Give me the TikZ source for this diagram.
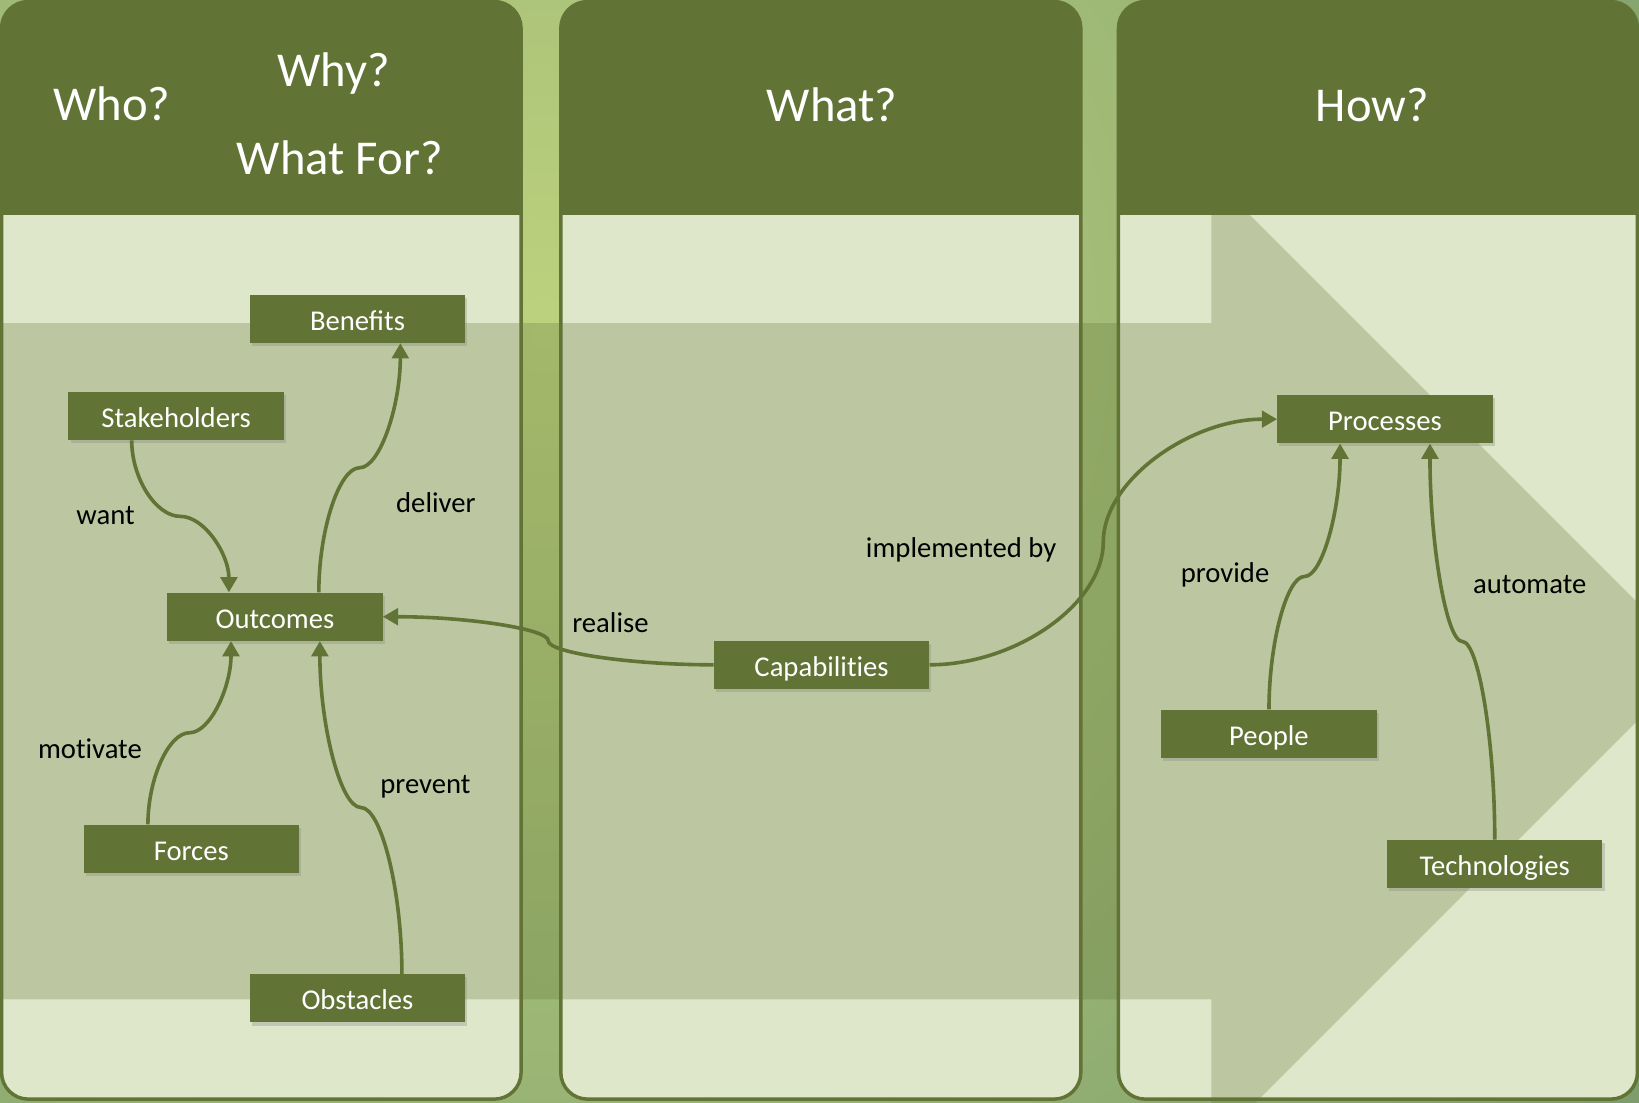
\documentclass[tikz,border=0pt]{standalone}
\usepackage{fontspec}
\setmainfont{Carlito}
\usetikzlibrary{arrows.meta,shadows,calc}
\definecolor{dkg}{HTML}{617335}
\definecolor{ltg}{HTML}{DFE7CA}
\definecolor{bgin}{HTML}{BDD27E}
\definecolor{bgout}{HTML}{7C9C6C}
\newcommand\upx{0.784pt}
\begin{document}
\begin{tikzpicture}[x=0.784pt,y=-0.784pt,
  box/.style={fill=dkg, text=white, font=\fontsize{21.5}{25}\selectfont,
    minimum width=161.5pt, minimum height=36.1pt, inner sep=0pt,
    text height=19pt, text depth=1.4pt,
    drop shadow={shadow xshift=1.6pt, shadow yshift=-2.4pt, opacity=0.3}},
  lbl/.style={font=\fontsize{21.5}{25}\selectfont, text=black, anchor=base, inner sep=0pt},
  hdr/.style={font=\fontsize{36.5}{43}\selectfont, text=white, anchor=base, inner sep=0pt},
  conn/.style={draw=dkg, line width=2.7pt, -{Triangle[length=11.5pt,width=12.5pt]}},
  vS/.style={to path={let \p1=(\tikztostart), \p2=(\tikztotarget) in
    .. controls (\x1,{\y1+(\y2-\y1)/4}) and ({\x1+(\x2-\x1)/4},{(\y1+\y2)/2}) .. ({(\x1+\x2)/2},{(\y1+\y2)/2})
    .. controls ({\x1+3*(\x2-\x1)/4},{(\y1+\y2)/2}) and (\x2,{\y2-(\y2-\y1)/4}) .. (\tikztotarget)}},
  hS/.style={to path={let \p1=(\tikztostart), \p2=(\tikztotarget) in
    .. controls ({\x1+(\x2-\x1)/4},\y1) and ({(\x1+\x2)/2},{\y1+(\y2-\y1)/4}) .. ({(\x1+\x2)/2},{(\y1+\y2)/2})
    .. controls ({(\x1+\x2)/2},{\y2-(\y2-\y1)/4}) and ({\x2-(\x2-\x1)/4},\y2) .. (\tikztotarget)}},
]
\useasboundingbox (0,0) rectangle (1568,1055);
% background
\begin{scope}
  \clip (0,0) rectangle (1568,1055);
  \shade[inner color=bgin, outer color=bgout] (520,320) circle (1300);
\end{scope}
% panels
\foreach \xa/\xb in {1.5/498.5, 536.5/1034, 1070/1566.5}{
  \begin{scope}
    \clip[rounded corners=20pt] (\xa,1.5) rectangle (\xb,1051.5);
    \fill[ltg] (\xa,0) rectangle (\xb,1055);
    \fill[dkg] (\xa,0) rectangle (\xb,206);
  \end{scope}
}
% big arrow overlay
\begin{scope}
  \clip (0,0) rectangle (1568,1055);
  \fill[dkg, opacity=0.27] (-5,309) -- (1159,309) -- (1159,169) -- (1623,633)
     -- (1159,1097) -- (1159,956) -- (-5,956) -- cycle;
\end{scope}
% panel borders
\foreach \xa/\xb in {1.5/498.5, 536.5/1034, 1070/1566.5}{
  \draw[dkg, line width=2.6pt, rounded corners=20pt] (\xa,1.5) rectangle (\xb,1051.5);
}
% headers
\node[hdr] (who) at (107,115) {Who?};
\node[hdr] (why) at (319,83) {Why?};
\node[hdr] (whatfor) at (325,167) {What For?};
\node[hdr] (what) at (796,116) {What?};
\node[hdr] (how) at (1313,116.5) {How?};
% boxes
\node[box] (benefits) at (342,305) {Benefits};
\node[box] (stake) at (168.5,398) {Stakeholders};
\node[box] (outcomes) at (263,590) {Outcomes};
\node[box] (forces) at (183,812) {Forces};
\node[box] (obstacles) at (342,955) {Obstacles};
\node[box] (capab) at (786,636) {Capabilit\kern0pt ies};
\node[box] (proc) at (1325,401) {Processes};
\node[box] (people) at (1214,702) {People};
\node[box] (tech) at (1430,826.5) {Technologies};
% labels
\node[lbl] (want) at (101,502) {want};
\node[lbl] (deliver) at (417,490) {deliver};
\node[lbl] (motivate) at (86,726) {mot\kern0pt ivate};
\node[lbl] (prevent) at (407,759) {prevent};
\node[lbl] (realise) at (584,605.5) {realise};
\node[lbl] (impl) at (919.5,533) {implemented by};
\node[lbl] (provide) at (1172,557.5) {provide};
\node[lbl] (automate) at (1463.5,567.5) {automate};
% connector end points
\coordinate (s1) at ([xshift=-42.5*\upx]stake.south);
\coordinate (e1) at ([xshift=-44*\upx]outcomes.north);
\coordinate (s2) at ([xshift=42*\upx]outcomes.north);
\coordinate (e2) at ([xshift=41*\upx]benefits.south);
\coordinate (s3) at ([xshift=-41.5*\upx]forces.north);
\coordinate (e3) at ([xshift=-42*\upx]outcomes.south);
\coordinate (s4) at ([xshift=42.5*\upx]obstacles.north);
\coordinate (e4) at ([xshift=43*\upx]outcomes.south);
\coordinate (s7) at (people.north);
\coordinate (e7) at ([xshift=-43*\upx]proc.south);
\coordinate (s8) at (tech.north);
\coordinate (e8) at ([xshift=43*\upx]proc.south);
\coordinate (s5) at (capab.west);
\coordinate (e5) at (outcomes.east);
\coordinate (s6) at (capab.east);
\coordinate (e6) at (proc.west);
% connectors
\draw[conn] (s1) to[vS] (e1);
\draw[conn] (s2) to[vS] (e2);
\draw[conn] (s3) to[vS] (e3);
\draw[conn] (s4) to[vS] (e4);
\draw[conn] (s5) to[hS] (e5);
\draw[conn] (s6) to[hS] (e6);
\draw[conn] (s7) to[vS] (e7);
\draw[conn] (s8) to[vS] (e8);
\end{tikzpicture}
\end{document}
